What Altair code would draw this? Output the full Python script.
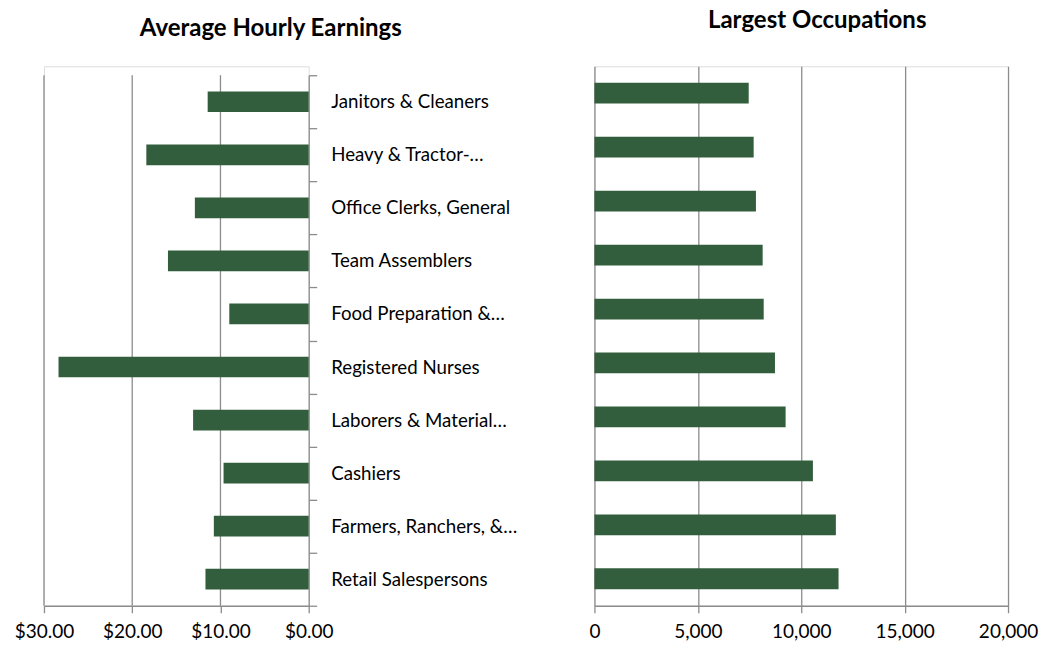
import altair as alt
import pandas as pd

occupations = [
    "Janitors & Cleaners",
    "Heavy & Tractor-…",
    "Office Clerks, General",
    "Team Assemblers",
    "Food Preparation &…",
    "Registered Nurses",
    "Laborers & Material…",
    "Cashiers",
    "Farmers, Ranchers, &…",
    "Retail Salespersons",
]
hourly_wage = [11.45, 18.4, 12.9, 15.95, 9.0, 28.35, 13.1, 9.65, 10.75, 11.7]
employment = [7460, 7700, 7810, 8135, 8185, 8730, 9245, 10565, 11675, 11805]
wage_ticks = [0, 10, 20, 30]
wage_grid = [10, 20, 30]
jobs_ticks = [0, 5000, 10000, 15000, 20000]
left_title = "Average Hourly Earnings"
right_title = "Largest Occupations"

GREEN = "#335e3d"
GRAY = "#8c8c8c"
FONT = "Lato"
LW = 1.3
TICK_FS = 19

df = pd.DataFrame({"occupation": occupations, "wage": hourly_wage, "jobs": employment})
grid_df = pd.DataFrame({"g": wage_grid})

wage_x = alt.Scale(domain=[0, 30], reverse=True, nice=False)
wage_axis = alt.Axis(
    values=wage_ticks, format="$.2f", title=None, grid=False, labelFlush=False,
    domainColor=GRAY, domainWidth=LW, tickColor=GRAY, tickWidth=LW, tickSize=7,
    labelFontSize=TICK_FS, labelPadding=10, labelColor="black", labelFont=FONT,
)

left_grid = alt.Chart(grid_df).mark_rule(color=GRAY, strokeWidth=LW).encode(
    x=alt.X("g:Q", scale=wage_x, axis=wage_axis),
    y=alt.value(9),
    y2=alt.value(540),
)

left_bars = alt.Chart(df).mark_bar(color=GREEN, height=alt.RelativeBandSize(0.39)).encode(
    x=alt.X("wage:Q", scale=wage_x, axis=wage_axis),
    y=alt.Y(
        "occupation:N", sort=occupations,
        scale=alt.Scale(range=[9, 540], paddingInner=0, paddingOuter=0),
        axis=alt.Axis(
            orient="right", title=None, tickBand="extent", grid=False,
            domainColor=GRAY, domainWidth=LW, tickColor=GRAY, tickWidth=LW, tickSize=8,
            labelPadding=14, labelAlign="left", labelLimit=0,
            labelFontSize=18.7, labelColor="black", labelFont=FONT,
        ),
    ),
)

left_text = alt.Chart(pd.DataFrame({"t": [left_title]})).mark_text(
    font=FONT, fontSize=24, fontWeight="bold", align="center", baseline="alphabetic", color="black"
).encode(text="t:N", x=alt.value(227), y=alt.value(-30))

left = alt.layer(left_grid, left_bars, left_text).properties(width=265, height=540)

right_bars = alt.Chart(df).mark_bar(color=GREEN, height=alt.RelativeBandSize(0.385)).encode(
    x=alt.X(
        "jobs:Q",
        scale=alt.Scale(domain=[0, 20000], nice=False),
        axis=alt.Axis(
            values=jobs_ticks, format=",d", title=None, labelFlush=False,
            grid=True, gridColor=GRAY, gridOpacity=1, gridWidth=LW,
            domainColor=GRAY, domainWidth=LW, tickColor=GRAY, tickWidth=LW, tickSize=7,
            labelFontSize=TICK_FS, labelPadding=10, labelColor="black", labelFont=FONT,
        ),
    ),
    y=alt.Y(
        "occupation:N", sort=occupations,
        scale=alt.Scale(paddingInner=0, paddingOuter=0),
        axis=None,
    ),
)

right_text = alt.Chart(pd.DataFrame({"t": [right_title]})).mark_text(
    font=FONT, fontSize=24, fontWeight="bold", align="center", baseline="alphabetic", color="black"
).encode(text="t:N", x=alt.value(223), y=alt.value(-38))

right = alt.layer(right_bars, right_text).properties(width=414, height=540)

chart = alt.hconcat(left, right, spacing=286, bounds="flush").configure_view(
    stroke=None
).configure(background="white", padding={"left": 5, "right": 0, "top": 0, "bottom": 0})

chart.save("out.html", embed_options={"renderer": "svg", "actions": False})
